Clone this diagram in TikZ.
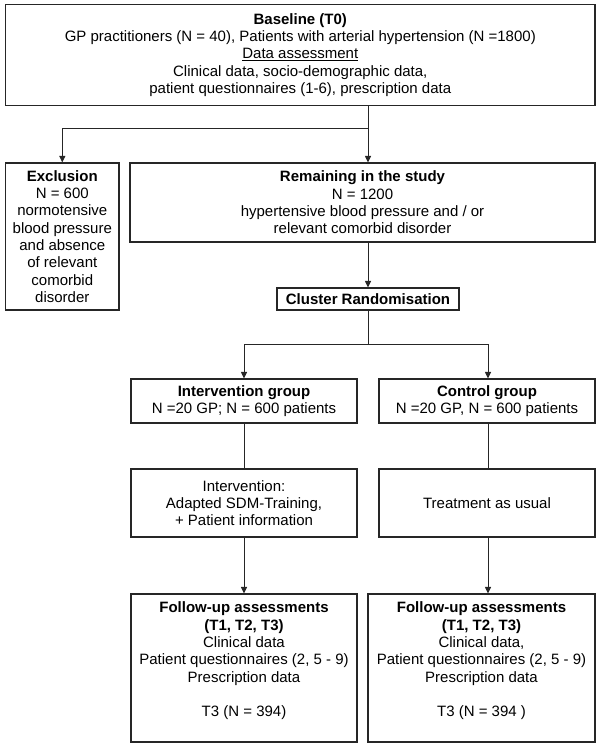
\documentclass[tikz,border=0pt]{standalone}
\usepackage{fontspec}
\setmainfont{Liberation Sans}
\usetikzlibrary{arrows.meta}
\tikzset{
  box/.style={draw=black!85, line width=1.1pt, rectangle, inner sep=0pt, align=center,
    font=\fontsize{15}{17.3}\selectfont},
  conn/.style={draw=black!85, line width=1pt},
  arr/.style={conn, -{Triangle[length=6.5pt,width=6pt]}}
}
\begin{document}
\begin{tikzpicture}[x=1pt,y=-1pt]
\useasboundingbox (0,0) rectangle (600,746);
\node[box, minimum width=589.3pt, minimum height=101.2pt] (base) at (300.3,55.1)
  {\textbf{Baseline (T0)}\\
   GP practitioners (N = 40), Patients with arterial hypertension (N =1800)\\
   \underline{Data assessment}\\
   Clinical data, socio-demographic data,\\
   patient questionnaires (1-6), prescription data};
\node[box, minimum width=113.3pt, minimum height=147pt] (excl) at (62.3,236.5)
  {\textbf{Exclusion}\\ N = 600\\ normotensive\\ blood pressure\\ and absence\\ of relevant\\ comorbid\\ disorder};
\node[box, minimum width=465pt, minimum height=79pt] (rem) at (362.5,202.5)
  {\textbf{Remaining in the study}\\ N = 1200\\ hypertensive blood pressure and / or\\ relevant comorbid disorder};
\node[box, minimum width=182pt, minimum height=22pt] (clus) at (368,299)
  {\textbf{Cluster Randomisation}};
\node[box, minimum width=226pt, minimum height=44pt] (ig) at (244,401)
  {\textbf{Intervention group}\\ N =20 GP; N = 600 patients};
\node[box, minimum width=216pt, minimum height=44pt] (cg) at (487,401)
  {\textbf{Control group}\\ N =20 GP, N = 600 patients};
\node[box, minimum width=226pt, minimum height=68pt] (iv) at (244,503)
  {Intervention:\\ Adapted SDM-Training,\\ + Patient information};
\node[box, minimum width=216pt, minimum height=68pt] (tau) at (487,503)
  {Treatment as usual};
\node[box, minimum width=226pt, minimum height=148pt] (fl) at (244,668)
  {\textbf{Follow-up assessments}\\ \textbf{(T1, T2, T3)}\\ Clinical data\\ Patient questionnaires (2, 5 - 9)\\ Prescription data\\ \mbox{}\\ T3 (N = 394)\\ \mbox{}};
\node[box, minimum width=227pt, minimum height=148pt] (fr) at (481.5,668)
  {\textbf{Follow-up assessments}\\ \textbf{(T1, T2, T3)}\\ Clinical data,\\ Patient questionnaires (2, 5 - 9)\\ Prescription data\\ \mbox{}\\ T3 (N = 394 )\\ \mbox{}};
\coordinate (j1) at (368,129);
\coordinate (j2) at (368,344);
\coordinate (rx) at (488,0);
\draw[conn] (base.south -| j1) -- (j1);
\draw[arr] (j1) -- (rem.north -| j1);
\draw[arr] (j1) -| (excl.north);
\draw[arr] (clus.north |- rem.south) -- (clus.north);
\draw[conn] (clus.south) -- (j2);
\draw[arr] (j2) -| (ig.north);
\draw[arr] (j2) -| (cg.north -| rx);
\draw[conn] (ig.south) -- (iv.north);
\draw[conn] (cg.south -| rx) -- (tau.north -| rx);
\draw[arr] (iv.south) -- (fl.north);
\draw[arr] (tau.south -| rx) -- (fr.north -| rx);
\end{tikzpicture}
\end{document}
